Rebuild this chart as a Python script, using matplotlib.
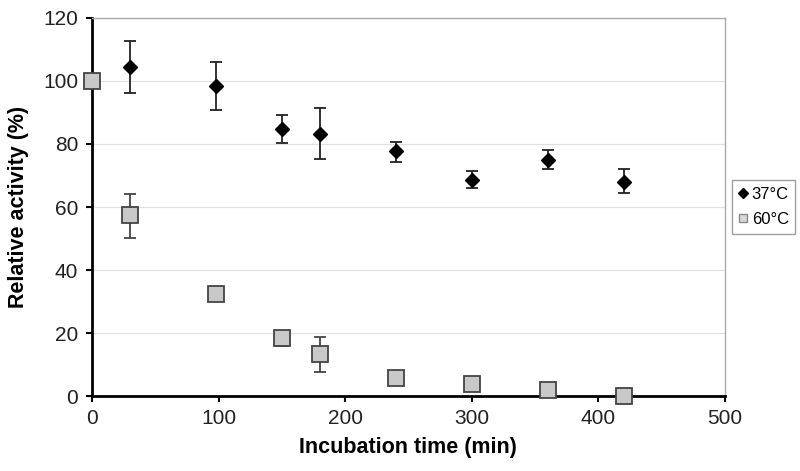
import numpy as np
import matplotlib
matplotlib.use('Agg')
import matplotlib.pyplot as plt
from matplotlib.lines import Line2D

plt.rcParams.update({
    'font.family': ['Liberation Sans', 'DejaVu Sans'],
    'font.size': 15,
})

# ─── Data ────────────────────────────────────────────────────────────────────
t37 = [30, 98, 150, 180, 240, 300, 360, 420]
act37 = [104.3, 98.3, 84.8, 83.2, 77.8, 68.6, 75.0, 68.0]
err37_lo = [8.1, 7.5, 4.5, 8.0, 3.5, 2.6, 3.0, 3.6]
err37_hi = [8.4, 7.7, 4.4, 8.2, 2.8, 2.8, 3.1, 4.0]

t60 = [0, 30, 98, 150, 180, 240, 300, 360, 420]
act60 = [100.0, 57.5, 32.4, 18.4, 13.3, 5.8, 3.8, 1.8, 0.0]
err60_lo = [0, 7.3, 0.5, 2.5, 5.7, 0.5, 0.5, 0.5, 0]
err60_hi = [0, 6.6, 0.5, 1.5, 5.4, 0.5, 0.5, 0.5, 0]

x_ticks = [0, 100, 200, 300, 400, 500]
y_ticks = [0, 20, 40, 60, 80, 100, 120]

fig = plt.figure(figsize=(8, 4.71), dpi=100)
ax = fig.add_axes([0.115, 0.159, 0.791, 0.803])

ax.errorbar(t37, act37, yerr=[err37_lo, err37_hi], fmt='D', color='black',
            ms=7.5, mfc='black', mec='black', ecolor='#222222', elinewidth=1.3,
            capsize=4, capthick=1.3, zorder=4)
ax.errorbar(t60, act60, yerr=[err60_lo, err60_hi], fmt='s', ms=11,
            mfc='#c8c8c8', mec='#444444', mew=1.3, ecolor='#444444',
            elinewidth=1.3, capsize=4, capthick=1.3, zorder=3,
            clip_on=False)

ax.set_xlim(0, 500)
ax.set_ylim(0, 120)
ax.set_xticks(x_ticks)
ax.set_yticks(y_ticks)
ax.yaxis.grid(True, color='#e0e0e0', lw=0.9)
ax.set_axisbelow(True)

for s in ['left', 'bottom']:
    ax.spines[s].set_linewidth(2)
    ax.spines[s].set_color('black')
for s in ['top', 'right']:
    ax.spines[s].set_linewidth(1)
    ax.spines[s].set_color('#aaaaaa')
ax.tick_params(axis='both', direction='out', length=4, width=1.5,
               labelsize=15, colors='black', labelcolor='#222222')
ax.tick_params(axis='y', pad=6)
ax.tick_params(axis='x', pad=5)

ax.set_xlabel('Incubation time (min)', fontsize=15.5, fontweight='bold',
              labelpad=7)
ax.set_ylabel('Relative activity (%)', fontsize=15.5, fontweight='bold',
              labelpad=10)

handles = [
    Line2D([], [], ls='none', marker='D', ms=5, mfc='black', mec='black'),
    Line2D([], [], ls='none', marker='s', ms=6, mfc='#d8d8d8', mec='#888888'),
]
ax.legend(handles, ['37°C', '60°C'], loc='center left',
          bbox_to_anchor=(1.003, 0.5), fontsize=12, frameon=True,
          fancybox=False, edgecolor='#888888', handlelength=0.6,
          handletextpad=0.2, borderpad=0.4, borderaxespad=0.3,
          labelspacing=0.6)

fig.savefig('out.png', dpi=100)
